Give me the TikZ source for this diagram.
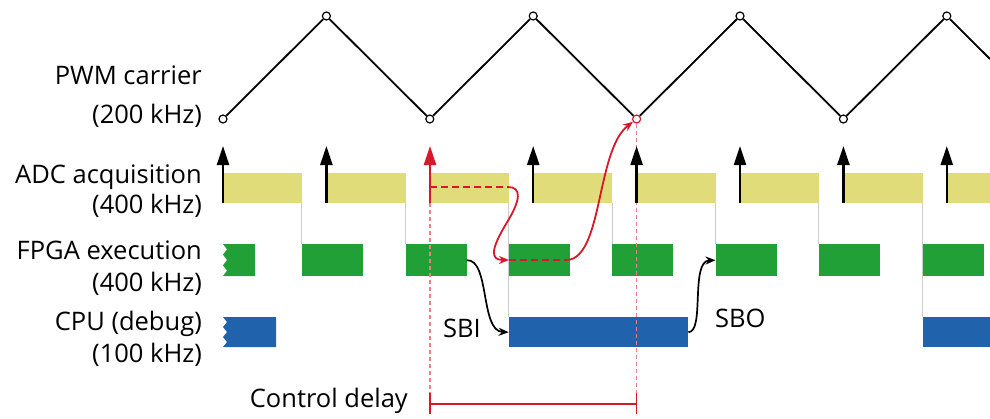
\documentclass[tikz,border=0pt]{standalone}
\usepackage{fontspec}
\setmainfont{Open Sans}
\usetikzlibrary{arrows.meta}
\definecolor{adcY}{RGB}{224,220,122}
\definecolor{fpgaG}{RGB}{33,160,56}
\definecolor{cpuB}{RGB}{33,98,172}
\definecolor{delR}{RGB}{215,24,42}
\begin{document}
\begin{tikzpicture}[x=1pt,y=-1pt,
  lbl/.style={anchor=base east,inner sep=0pt,font=\fontsize{25.5}{29}\selectfont},
  tlbl/.style={anchor=base west,inner sep=0pt,font=\fontsize{25.5}{29}\selectfont},
  ybox/.style={fill=adcY,draw=none,anchor=north west,inner sep=0pt,minimum height=30pt},
  gbox/.style={fill=fpgaG,draw=none,anchor=north west,inner sep=0pt,minimum height=32pt,minimum width=61pt},
  bbox/.style={fill=cpuB,draw=none,anchor=north west,inner sep=0pt,minimum height=30pt},
  dot/.style={circle,draw=black,fill=white,line width=1.2pt,inner sep=0pt,minimum size=8pt},
  carrier/.style={black,line width=1.8pt},
  sample/.style={line width=2.4pt,-{Triangle[length=19pt,width=12pt]}},
  guide/.style={gray!40,line width=1pt},
  marker/.style={delR!55,line width=1.1pt,dash pattern=on 4pt off 3pt},
  path/.style={delR,line width=2pt,dash pattern=on 7pt off 4pt},
  flow/.style={delR,line width=1.8pt,-{Stealth[length=10pt,width=8pt]}},
  handoff/.style={black,line width=1.7pt,-{Stealth[length=10pt,width=8pt]}}]
\useasboundingbox (0,0) rectangle (990,418);
\def\xs{223}\def\per{103.4}\def\gap{24.5}
% guide lines (gray)
\foreach \k in {1,2,4,5,6}{
  \pgfmathsetmacro\gx{\xs+\per*\k-\gap}
  \draw[guide] (\gx,203) -- (\gx,244);
}
\foreach \k in {3,7}{
  \pgfmathsetmacro\gx{\xs+\per*\k-\gap}
  \draw[guide] (\gx,203) -- (\gx,317);
}
% ADC boxes
\foreach \k in {0,...,6}{
  \pgfmathsetmacro\ax{\xs+\per*\k}
  \node[ybox,minimum width=78.9pt] (y\k) at (\ax,173) {};
}
\node[ybox,minimum width=43.2pt] (y7) at (946.8,173) {};
% FPGA boxes
\fill[fpgaG] (223,244) -- (255,244) -- (255,276) -- (223,276) -- (227,270.7) -- (223,265.3) -- (227,260) -- (223,254.7) -- (227,249.3) -- cycle;
\foreach \k in {1,...,7}{
  \pgfmathsetmacro\gx{\xs+\per*\k-\gap}
  \node[gbox] (g\k) at (\gx,244) {};
}
% CPU boxes
\fill[cpuB] (223,317) -- (276,317) -- (276,347) -- (223,347) -- (227,342) -- (223,337) -- (227,332) -- (223,327) -- (227,322) -- cycle;
\node[bbox,minimum width=179.3pt] (b3) at (508.7,317) {};
\node[bbox,minimum width=67.7pt] (b7) at (922.3,317) {};
% delay markers
\coordinate (m2top) at (430,203);
\coordinate (m2bot) at (430,414);
\coordinate (m4bot) at (636.6,414);
\draw[marker] (m2top) -- (m2bot);
% carrier
\foreach \k in {0,2,6}{
  \pgfmathsetmacro\cx{\xs+\per*\k}
  \node[dot] (c\k) at (\cx,119) {};
}
\foreach \k in {1,3,5,7}{
  \pgfmathsetmacro\cx{\xs+\per*\k}
  \node[dot] (c\k) at (\cx,16) {};
}
\node[dot,draw=delR] (c4) at (636.6,119) {};
\draw[marker] (c4) -- (m4bot);
\coordinate (cend) at (990,59);
\draw[carrier] (c0) -- (c1) -- (c2) -- (c3) -- (c4) -- (c5) -- (c6) -- (c7) -- (cend);
% sampling arrows
\foreach \k in {0,1,3,4,5,6,7}{
  \pgfmathsetmacro\ax{\xs+\per*\k}
  \draw[sample] (\ax,203) -- (\ax,146);
}
\draw[sample,delR] (m2top) -- (430,146);
% red data path
\coordinate (p0) at (430,187);
\coordinate (p1) at (508,187);
\coordinate (q0) at (509,260);
\coordinate (q1) at (567,260);
\draw[path] (p0) -- (p1);
\draw[flow] (p1) .. controls (522,187) and (521,200) .. (506,224) .. controls (491,249) and (490,260) .. (q0);
\draw[path] (q0) -- (q1);
\draw[flow] (q1) .. controls (603,258) and (596,150) .. (c4);
% SBI / SBO
\draw[handoff] (g2.east) .. controls (490,259) and (480,331) .. (b3.west);
\draw[handoff] (b3.east) .. controls (705,332) and (690,261) .. (g5.west);
\node[tlbl] (sbi) at (443,337) {SBI};
\node[tlbl] (sbo) at (715,327) {SBO};
% control delay bracket
\coordinate (d0) at (430,404);
\coordinate (d1) at (636.6,404);
\draw[delR,line width=1.4pt] (430,393) -- (430,414) (d0) -- (d1) (636.6,393) -- (636.6,414);
% labels
\node[lbl] (l1) at (202,84) {PWM carrier};
\node[lbl] (l2) at (202,123) {(200 kHz)};
\node[lbl] (l3) at (202,183) {ADC acquisition};
\node[lbl] (l4) at (202,213) {(400 kHz)};
\node[lbl] (l5) at (202,259) {FPGA execution};
\node[lbl] (l6) at (202,291) {(400 kHz)};
\node[lbl] (l7) at (202,330) {CPU (debug)};
\node[lbl] (l8) at (202,362) {(100 kHz)};
\node[lbl] (l9) at (408,407) {Control delay};
\end{tikzpicture}
\end{document}
